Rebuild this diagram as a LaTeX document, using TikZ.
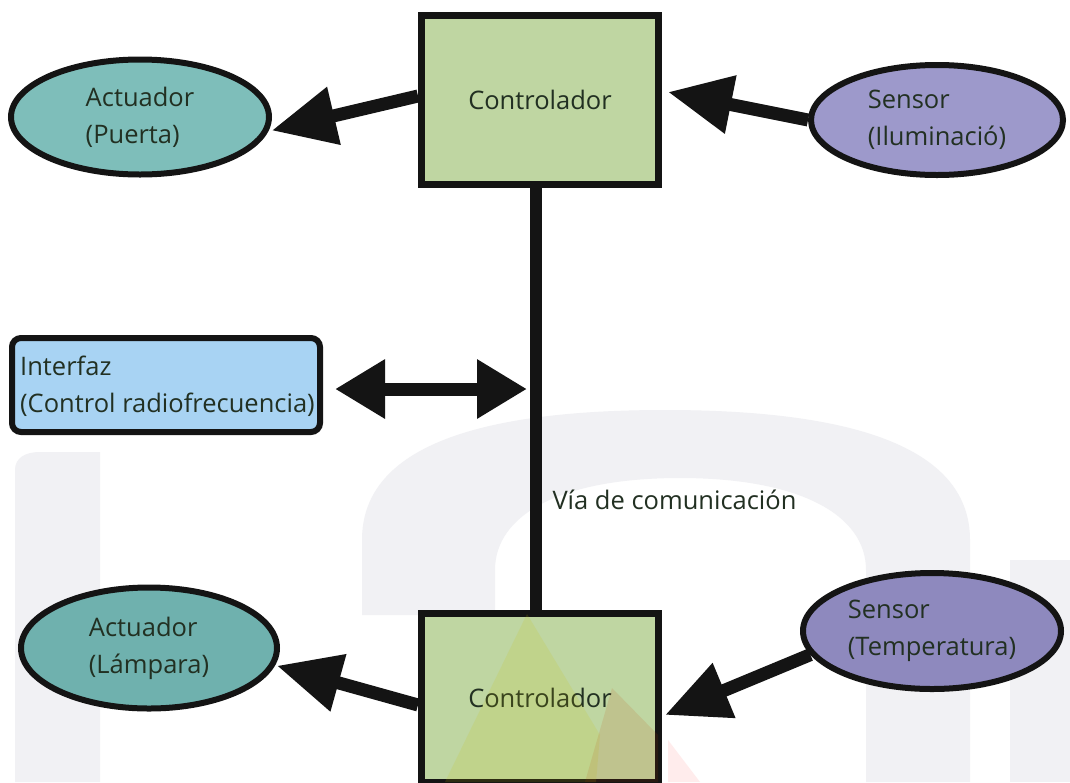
\documentclass[tikz,border=0pt]{standalone}
\usepackage{fontspec}
\setmainfont{Open Sans}
\usetikzlibrary{arrows.meta,shapes.geometric}

\definecolor{ctrlgreen}{HTML}{BFD6A2}
\definecolor{actteal}{HTML}{7EBEBA}
\definecolor{actteal2}{HTML}{6FB1AE}
\definecolor{senspurple}{HTML}{9D99CB}
\definecolor{senspurple2}{HTML}{8E89BE}
\definecolor{ifblue}{HTML}{A8D3F3}
\definecolor{inkdark}{HTML}{223022}
\definecolor{wmgray}{HTML}{F1F1F4}

\begin{document}
\begin{tikzpicture}[x=1pt,y=-1pt,
  txt/.style={font=\fontsize{25.5}{37}\selectfont, text=inkdark, align=left},
  ctrlbox/.style={txt, draw=black!92, line width=7pt, fill=ctrlgreen,
    minimum width=237pt, minimum height=169pt, inner sep=0pt},
  actnode/.style={txt, ellipse, draw=black!92, line width=6pt, fill=actteal, inner sep=0pt},
  sensnode/.style={txt, ellipse, draw=black!92, line width=6pt, fill=senspurple, inner sep=0pt},
  ifbox/.style={draw=black!92, line width=6pt, fill=ifblue, rounded corners=9pt,
    minimum width=308pt, minimum height=94pt, inner sep=0pt},
  bus/.style={draw=black!92, line width=12pt},
  bigarrow/.style={draw=black!92, line width=13pt, -{Triangle[length=64pt,width=56pt]}},
  duoarrow/.style={draw=black!92, line width=13pt,
    {Triangle[length=50pt,width=56pt]}-{Triangle[length=50pt,width=56pt]}}
]
\useasboundingbox (0,0) rectangle (1070,782);
\fill[white] (0,0) rectangle (1070,782);

% faint background emblem
\fill[wmgray] (15,782) -- (15,470) .. controls (15,458) and (25,452) .. (40,452)
  -- (100,452) -- (100,782) -- cycle;
\fill[wmgray] (362,615) -- (362,540) .. controls (362,450) and (470,410) .. (665,410)
  .. controls (860,410) and (970,450) .. (970,540) -- (970,782) -- (866,782)
  -- (866,570) .. controls (866,515) and (800,478) .. (680,478)
  .. controls (560,478) and (495,515) .. (495,570) -- (495,615) -- cycle;
\fill[wmgray] (1010,560) rectangle (1070,782);

% controllers and the communication bus
\node[ctrlbox] (ctrlTop) at (540,100) {Controlador};
\node[ctrlbox] (ctrlBot) at (540,698) {Controlador};
\draw[bus] ([xshift=-4pt]ctrlTop.south) -- ([xshift=-4pt]ctrlBot.north)
  coordinate[pos=0.46] (busMid);
\node[txt, anchor=west] (busLbl) at (549,500) {Vía de comunicación};

% actuators and sensors
\node[actnode, minimum width=258pt, minimum height=115pt] (actDoor) at (140,117) {Actuador\\(Puerta)};
\node[sensnode, minimum width=252pt, minimum height=110pt] (sensLight) at (937,120) {Sensor\\(Iluminació)};
\node[actnode, fill=actteal2, minimum width=256pt, minimum height=121pt] (actLamp) at (149,648) {Actuador\\(Lámpara)};
\node[sensnode, fill=senspurple2, minimum width=258pt, minimum height=116pt] (sensTemp) at (932,631) {Sensor\\(Temperatura)};

% interface
\node[ifbox] (iface) at (166,385) {};
\node[txt, anchor=west, inner sep=0pt] (ifaceTxt) at ([xshift=11pt,yshift=-1pt]iface.west)
  {Interfaz\\(Control radiofrecuencia)};

% signal arrows
\draw[bigarrow] ([yshift=4pt]ctrlTop.west) -- ([xshift=3pt]actDoor.-6);
\draw[bigarrow] (sensLight.west) -- ([xshift=6pt,yshift=8pt]ctrlTop.east);
\draw[bigarrow] ([yshift=-7pt]ctrlBot.west) -- ([xshift=2pt]actLamp.-8);
\draw[bigarrow] (sensTemp.191) -- ([xshift=3pt,yshift=-17pt]ctrlBot.east);
\draw[duoarrow] ([xshift=12pt,yshift=-4pt]iface.east) -- ([xshift=-9pt]busMid |- {0,389});

% emblem tint over the lower controller
\fill[yellow!55!olive, opacity=0.14] (527,614) -- (600,735) -- (596,782) -- (445,782) -- cycle;
\fill[red!50!olive, opacity=0.12] (612,688) -- (658,735) -- (658,782) -- (585,782) -- cycle;
\fill[red!40, opacity=0.18] (668,740) -- (700,782) -- (668,782) -- cycle;
\end{tikzpicture}
\end{document}
